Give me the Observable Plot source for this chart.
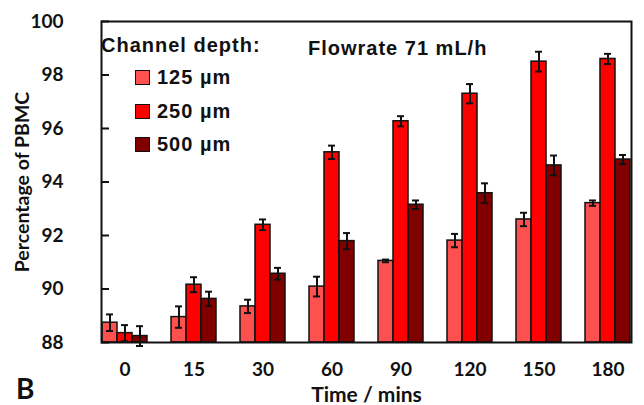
<!DOCTYPE html>
<html><head><meta charset="utf-8">
<script src="https://cdn.jsdelivr.net/npm/d3@7"></script>
<script src="https://cdn.jsdelivr.net/npm/@observablehq/plot@0.6"></script>
<style>
body{margin:0;background:#fff;}
#wrap{position:relative;width:644px;height:405px;overflow:hidden;}
.ov{position:absolute;font-family:"Liberation Sans",Arial,sans-serif;font-weight:bold;color:#111;white-space:nowrap;line-height:1;letter-spacing:1px;}
.sw{position:absolute;width:13px;height:13px;border:1.5px solid #111;}
</style></head><body><div id="wrap"></div>
<script>
const times = ["0","15","30","60","90","120","150","180"];
const depths = ["125 µm","250 µm","500 µm"];
const colors = ["#ff5050","#ff0000","#800000"];
const mean125 = [88.74, 88.95, 89.35, 90.09, 91.05, 91.81, 92.60, 93.21];
const err125  = [0.31, 0.40, 0.25, 0.37, 0.05, 0.25, 0.25, 0.10];
const mean250 = [88.35, 90.16, 92.40, 95.11, 96.27, 97.30, 98.50, 98.60];
const err250  = [0.30, 0.28, 0.20, 0.25, 0.19, 0.36, 0.37, 0.19];
const mean500 = [88.24, 89.63, 90.57, 91.79, 93.15, 93.58, 94.62, 94.84];
const err500  = [0.37, 0.27, 0.22, 0.30, 0.16, 0.37, 0.37, 0.17];
const yTicks = [88, 90, 92, 94, 96, 98, 100];
const legendTitle = "Channel depth:";
const noteText = "Flowrate 71 mL/h";
const xLabel = "Time / mins";
const yLabel = "Percentage of PBMC";
const panelLetter = "B";

const means = [mean125, mean250, mean500];
const errs = [err125, err250, err500];
const data = [];
times.forEach((t, i) => depths.forEach((d, j) => data.push({time: t, depth: d, mean: means[j][i], err: errs[j][i]})));
const yMin = yTicks[0], yMax = yTicks[yTicks.length - 1];

const chart = Plot.plot({
  width: 644, height: 405,
  marginLeft: 88, marginRight: 1, marginTop: 21, marginBottom: 63,
  style: {fontFamily: "Lato, sans-serif", fontWeight: "bold", fontSize: "18px", color: "#111", background: "white", overflow: "visible"},
  fx: {domain: times, paddingInner: 0.32, paddingOuter: 0.16},
  x: {domain: depths, padding: 0, axis: null},
  y: {domain: [yMin, yMax]},
  color: {domain: depths, range: colors},
  marks: [
    Plot.barY(data, {fx: "time", x: "depth", y1: yMin, y2: "mean", fill: "depth", stroke: "#111", strokeWidth: 1.5}),
    Plot.ruleX(data, {fx: "time", x: "depth", y1: d => d.mean - d.err, y2: d => d.mean + d.err, stroke: "#111", strokeWidth: 2}),
    Plot.tickY(data, {fx: "time", x: "depth", y: d => d.mean - d.err, insetLeft: 4, insetRight: 4, stroke: "#111", strokeWidth: 2}),
    Plot.tickY(data, {fx: "time", x: "depth", y: d => d.mean + d.err, insetLeft: 4, insetRight: 4, stroke: "#111", strokeWidth: 2}),
    Plot.frame({facet: "super", stroke: "#111", strokeWidth: 2}),
    Plot.axisY({ticks: yTicks, tickSize: -8, tickPadding: 46, strokeWidth: 2, fontSize: 19, label: null}),
    Plot.axisY({ticks: [], tickSize: 0, fontSize: 19.5, label: yLabel, labelAnchor: "center", labelArrow: "none", labelOffset: 86}),
    Plot.axisFx({anchor: "bottom", tickSize: 0, tickPadding: 20, fontSize: 19, label: null}),
    Plot.axisFx({anchor: "bottom", ticks: [], tickSize: 0, fontSize: 21, label: xLabel, labelAnchor: "center", labelArrow: "none", labelOffset: 59})
  ]
});
const wrap = document.getElementById("wrap");
wrap.appendChild(chart);

function ov(text, x, y, size, extra) {
  const el = document.createElement("div");
  el.className = "ov";
  el.textContent = text;
  el.style.left = x + "px"; el.style.top = y + "px"; el.style.fontSize = size + "px";
  if (extra) Object.assign(el.style, extra);
  wrap.appendChild(el);
  return el;
}
ov(legendTitle, 101, 35, 20);
ov(noteText, 308, 38, 20);
depths.forEach((d, j) => {
  const sw = document.createElement("div");
  sw.className = "sw";
  sw.style.left = "135px"; sw.style.top = (70 + j * 33.5) + "px"; sw.style.background = colors[j];
  wrap.appendChild(sw);
  ov(d, 157, 67 + j * 33.5, 20);
});
ov(panelLetter, 16, 374, 28, {fontFamily: "Lato, sans-serif", letterSpacing: "0px"});
</script></body></html>
